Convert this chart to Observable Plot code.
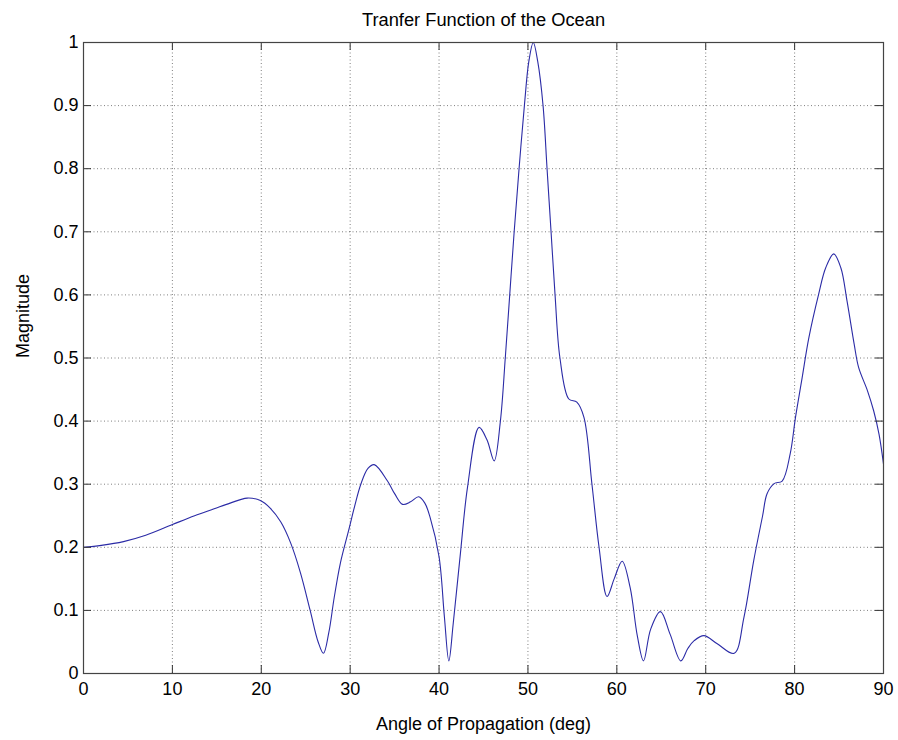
<!DOCTYPE html>
<html>
<head>
<meta charset="utf-8">
<script src="https://cdn.jsdelivr.net/npm/d3@7"></script>
<script src="https://cdn.jsdelivr.net/npm/@observablehq/plot@0.6"></script>
<style>
  html, body { margin: 0; padding: 0; background: #fff; }
</style>
</head>
<body>
<div id="chart"></div>
<script>
const titleText = "Tranfer Function of the Ocean";
const xLabel = "Angle of Propagation (deg)";
const yLabel = "Magnitude";

const angles = [
  0, 2, 4.5, 7, 10, 12.5, 14.7, 16.5, 18.4, 19.9, 21, 22.2, 23.3, 24.4, 25.5, 26.4, 27.0, 27.6,
  28.2, 28.9, 29.85, 30.5, 31.2, 32.0, 32.7, 34.2, 35.0, 35.9, 36.8, 37.7, 38.4, 39.0, 40.0, 40.6, 41.1, 41.6,
  42.4, 43.2, 44.5, 45.4, 46.2, 46.9, 47.45, 47.95, 48.45, 49.0, 49.6, 50.1, 50.6, 51.1, 51.7, 52.15,
  52.6, 53.05, 53.6, 54.6, 55.5, 56.3, 57.2, 58.0, 58.9, 59.7, 60.6, 61.5, 62.3, 63.0, 63.8,
  64.9, 66.0, 67.2, 68.0, 68.7, 69.8, 71.3, 73.2, 74.3, 75.4, 76.4, 76.9, 77.7, 78.6, 79.5,
  80.1, 80.85, 81.6, 82.7, 83.5, 84.4, 85.2, 85.9, 86.7, 87.2, 88.2, 88.9, 89.5, 90.0
];
const magnitude = [
  0.200, 0.203, 0.209, 0.219, 0.236, 0.250, 0.261, 0.270, 0.278, 0.274, 0.262, 0.240, 0.207, 0.160, 0.100, 0.050, 0.032, 0.065,
  0.120, 0.175, 0.228, 0.265, 0.300, 0.325, 0.331, 0.305, 0.285, 0.268, 0.272, 0.280, 0.270, 0.247, 0.185, 0.090, 0.020, 0.080,
  0.190, 0.295, 0.390, 0.370, 0.337, 0.400, 0.500, 0.600, 0.700, 0.800, 0.900, 0.970, 1.000, 0.970, 0.900, 0.800,
  0.700, 0.600, 0.500, 0.435, 0.430, 0.406, 0.300, 0.200, 0.122, 0.150, 0.178, 0.136, 0.060, 0.020, 0.070,
  0.098, 0.062, 0.020, 0.040, 0.052, 0.060, 0.047, 0.032, 0.089, 0.179, 0.250, 0.285, 0.301, 0.305, 0.348,
  0.406, 0.469, 0.532, 0.601, 0.643, 0.665, 0.643, 0.590, 0.522, 0.485, 0.448, 0.416, 0.379, 0.332
];

const xTicks = [0, 10, 20, 30, 40, 50, 60, 70, 80, 90];
const xTickLabels = ["0", "10", "20", "30", "40", "50", "60", "70", "80", "90"];
const yTicks = [0, 0.1, 0.2, 0.3, 0.4, 0.5, 0.6, 0.7, 0.8, 0.9, 1];
const yTickLabels = ["0", "0.1", "0.2", "0.3", "0.4", "0.5", "0.6", "0.7", "0.8", "0.9", "1"];

const data = angles.map((a, i) => ({angle: a, mag: magnitude[i]}));

const W = 898, H = 740;
const mL = 83, mR = 15, mT = 42, mB = 67;
const innerW = W - mL - mR, innerH = H - mT - mB;
const tickLen = 8;
const gridStyle = {stroke: "#000", strokeOpacity: 0.5, strokeDasharray: "1,2.5"};

const chart = Plot.plot({
  width: W,
  height: H,
  marginLeft: mL,
  marginRight: mR,
  marginTop: mT,
  marginBottom: mB,
  style: {fontFamily: "'Liberation Sans', Arial, Helvetica, sans-serif", fontSize: "18px", background: "#fff", color: "#000"},
  x: {domain: [0, 90], axis: null},
  y: {domain: [0, 1], axis: null},
  marks: [
    Plot.gridX(xTicks.slice(1, -1), gridStyle),
    Plot.gridY(yTicks.slice(1, -1), gridStyle),
    Plot.line(data, {x: "angle", y: "mag", curve: "catmull-rom", stroke: "#2b2ba6", strokeWidth: 1.1, clip: true}),
    Plot.tickX(xTicks, {x: d => d, insetTop: innerH - tickLen, stroke: "#333"}),
    Plot.tickX(xTicks, {x: d => d, insetBottom: innerH - tickLen, stroke: "#333"}),
    Plot.tickY(yTicks, {y: d => d, insetRight: innerW - tickLen, stroke: "#333"}),
    Plot.tickY(yTicks, {y: d => d, insetLeft: innerW - tickLen, stroke: "#333"}),
    Plot.frame({stroke: "#444", strokeWidth: 1.2}),
    Plot.axisX(xTicks, {anchor: "bottom", tickSize: 0, tickPadding: 9, label: null,
      tickFormat: d => xTickLabels[xTicks.indexOf(d)], fontSize: 18}),
    Plot.axisY(yTicks, {anchor: "left", tickSize: 0, tickPadding: 5, label: null,
      tickFormat: d => yTickLabels[yTicks.indexOf(d)], fontSize: 18}),
    Plot.text([titleText], {frameAnchor: "top", dy: -17, lineAnchor: "bottom", text: d => d, fontSize: 18.3, fill: "#000"}),
    Plot.text([xLabel], {frameAnchor: "bottom", dy: 56, lineAnchor: "bottom", text: d => d, fontSize: 18, fill: "#000"}),
    Plot.text([yLabel], {frameAnchor: "left", dx: -55, rotate: -90, lineAnchor: "bottom", text: d => d, fontSize: 18, fill: "#000"})
  ]
});
document.getElementById("chart").appendChild(chart);
</script>
</body>
</html>
